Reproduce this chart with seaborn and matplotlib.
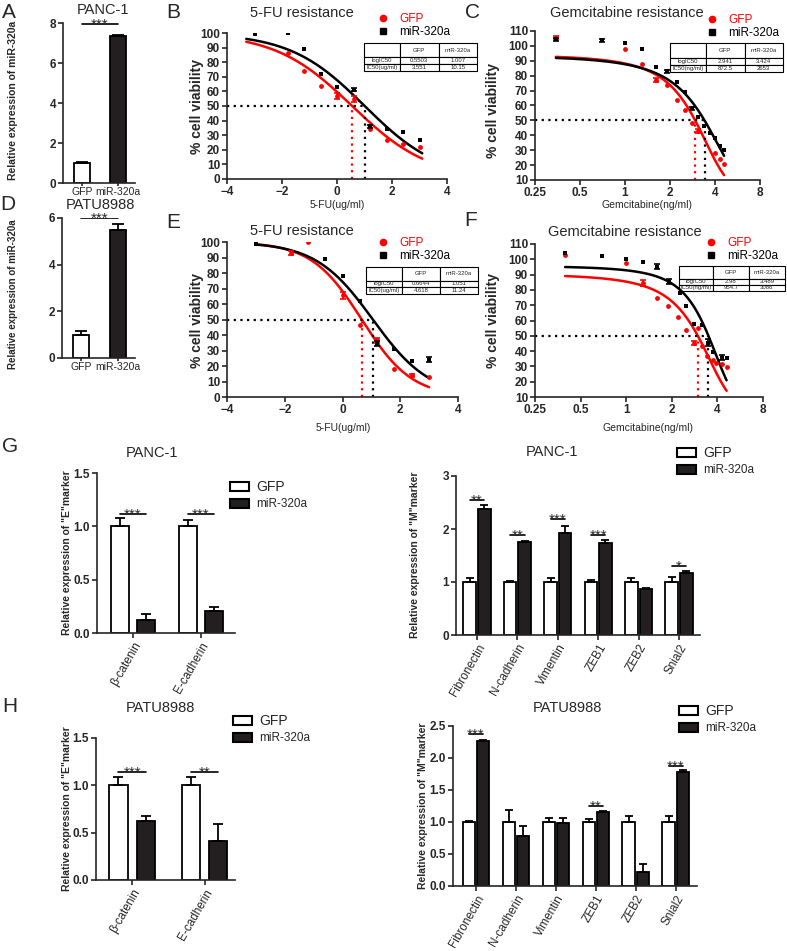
import numpy as np
import pandas as pd
import seaborn as sns
import matplotlib.pyplot as plt
from matplotlib.lines import Line2D
from matplotlib.patches import Patch
from matplotlib.ticker import NullLocator

#==========================================================================#
# data
#==========================================================================#

groups = ['GFP', 'miR-320a']

# A / D : miR-320a expression
a_mean = [1.0, 7.35]
a_err = [0.04, 0.06]
a_star_y = 7.97
d_mean = [1.0, 5.5]
d_err = [0.15, 0.25]
d_star_y = 6.0

# B : 5-FU, PANC-1   (x = log dose)
b_gfp_x = [-1.8, -1.2, -0.6, 0.0, 0.6, 1.2, 1.8, 2.4, 3.0]
b_gfp_y = [86, 74, 64, 57, 55, 34, 27, 24, 22]
b_gfp_e = [0, 0, 0, 2, 2, 0, 0, 0, 0]
b_mir_x = [-3.0, -1.8, -1.2, -0.6, 0.0, 0.6, 1.2, 1.8, 2.4, 3.0]
b_mir_y = [99, 100, 89, 72, 63, 61, 36, 34, 32, 27]
b_mir_e = [0, 0, 0, 0, 0, 1, 1, 0, 0, 0]
b_fits = [(100, 0.5503, 0.31), (100, 1.007, 0.32)]   # top, mid, slope
b_logic50 = [0.5503, 1.007]
b_table = [['logIC50', '0.5503', '1.007'], ['IC50(ug/ml)', '3.551', '10.15']]

# C : gemcitabine, PANC-1
c_gfp_x = [0.345, 1.0, 1.3, 1.6, 1.9, 2.22, 2.52, 2.8, 3.1, 4.0, 4.3, 4.6]
c_gfp_y = [105.5, 97.7, 88, 77, 74, 64, 57, 48, 43, 28, 24, 21]
c_gfp_e = [1, 0, 0, 1.5, 0, 0, 0, 0, 1.5, 0, 0, 0]
c_mir_x = [0.345, 0.7, 1.0, 1.3, 1.6, 1.9, 2.22, 2.52, 2.8, 3.1, 3.36, 3.7, 4.0, 4.3, 4.6]
c_mir_y = [104.6, 103.8, 102, 98, 86, 83, 76, 69, 58, 52, 46, 41.5, 38, 33, 30]
c_mir_e = [1, 1, 0, 0, 0, 1, 0, 0, 1, 0, 0, 0, 0, 0, 0]
c_fits = [(97, 3.0, 0.5), (98, 3.45, 0.38)]
c_logic50 = [2.941, 3.424]
c_table = [['logIC50', '2.941', '3.424'], ['IC50(ng/ml)', '872.5', '2653']]

# E : 5-FU, PATU8988
e_gfp_x = [-1.8, -1.2, 0.0, 0.6, 1.2, 1.8, 2.4, 3.0]
e_gfp_y = [93, 100, 65.5, 46.5, 36.5, 18, 14, 13]
e_gfp_e = [1.5, 0, 2, 0, 1.5, 0, 1, 0]
e_mir_x = [-3.0, -0.6, 0.0, 0.6, 1.2, 1.8, 2.4, 3.0]
e_mir_y = [99, 88.8, 78, 62, 34.5, 31, 23, 24]
e_mir_e = [0, 0, 0, 0, 1.5, 0, 0, 1.5]
e_fits = [(100, 0.6644, 0.5), (100, 1.051, 0.44)]
e_logic50 = [0.6644, 1.051]
e_table = [['logIC50', '0.6644', '1.051'], ['IC50(ug/ml)', '4.618', '11.24']]

# F : gemcitabine, PATU8988
f_gfp_x = [0.395, 1.0, 1.3, 1.59, 1.9, 2.2, 2.5, 2.8, 2.97, 3.15, 3.4, 3.75, 3.9, 4.3, 4.6]
f_gfp_y = [102.8, 97.8, 84.7, 75, 69.4, 62, 54.1, 45.4, 55.2, 43.2, 36.7, 34, 31.9, 31.4, 29.3]
f_gfp_e = [0, 0, 2, 0, 0, 0, 0, 1.5, 0, 0, 0, 0, 0, 0, 0]
f_mir_x = [0.395, 0.695, 1.0, 1.3, 1.6, 1.92, 2.27, 2.5, 2.8, 3.15, 3.46, 3.75, 4.3, 4.6]
f_mir_y = [103.9, 102.4, 100, 98, 95.2, 85.3, 78, 69.6, 57.6, 57, 45.6, 39.5, 35.8, 35.8]
f_mir_e = [0, 0, 0, 0, 1.5, 1.5, 0, 0, 0, 0, 2, 0, 1.5, 0]
f_fits = [(93, 3.1, 0.5), (97, 3.54, 0.53)]
f_logic50 = [2.98, 3.489]
f_table = [['logIC50', '2.98', '3.489'], ['IC50(ng/ml)', '954.7', '3086']]

# G / H : EMT markers
e_markers = ['β-catenin', 'E-cadherin']
m_markers = ['Fibronectin', 'N-cadherin', 'Vimentin', 'ZEB1', 'ZEB2', 'Snial2']

g_e_gfp = [1.0, 1.0]
g_e_gfp_err = [0.08, 0.06]
g_e_mir = [0.12, 0.21]
g_e_mir_err = [0.06, 0.03]
g_e_stars = ['***', '***']
g_e_star_y = [1.12, 1.12]

g_m_gfp = [1.0, 1.0, 1.0, 1.0, 1.0, 1.0]
g_m_gfp_err = [0.08, 0.02, 0.08, 0.04, 0.07, 0.10]
g_m_mir = [2.38, 1.76, 1.93, 1.73, 0.86, 1.17]
g_m_mir_err = [0.07, 0.02, 0.12, 0.07, 0.02, 0.03]
g_m_stars = ['**', '**', '***', '***', '', '*']
g_m_star_y = [2.55, 1.89, 2.19, 1.89, 0, 1.31]

h_e_gfp = [1.0, 1.0]
h_e_gfp_err = [0.09, 0.09]
h_e_mir = [0.62, 0.41]
h_e_mir_err = [0.06, 0.18]
h_e_stars = ['***', '**']
h_e_star_y = [1.14, 1.14]

h_m_gfp = [1.0, 1.0, 1.0, 1.0, 1.0, 1.0]
h_m_gfp_err = [0.01, 0.18, 0.07, 0.04, 0.10, 0.10]
h_m_mir = [2.27, 0.78, 0.99, 1.15, 0.22, 1.78]
h_m_mir_err = [0.01, 0.16, 0.08, 0.02, 0.12, 0.03]
h_m_stars = ['***', '', '', '**', '', '***']
h_m_star_y = [2.37, 0, 0, 1.25, 0, 1.87]

#==========================================================================#
# figure helpers
#==========================================================================#

sns.set_style('ticks')
plt.rcParams['font.family'] = ['Liberation Sans', 'DejaVu Sans']

DARK = '#231f20'
bar_colors = {'GFP': 'white', 'miR-320a': DARK}
W, H = 787, 951
fig = plt.figure(figsize=(W / 100, H / 100), dpi=100)


def add_ax(l, t, r, b):
    """axes from pixel box (left, top, right, bottom)"""
    return fig.add_axes([l / W, 1 - b / H, (r - l) / W, (b - t) / H])


def fpos(x, y):
    return x / W, 1 - y / H


def style(ax, ylabel, ylab_xy, yfont=7.5):
    sns.despine(ax=ax)
    for s in ['left', 'bottom']:
        ax.spines[s].set_linewidth(1.2)
    ax.tick_params(width=1.2, length=3.5, labelsize=8.5, pad=1.5)
    ax.set_xlabel('')
    ax.set_ylabel(ylabel, fontsize=yfont, fontweight='bold')
    ax.yaxis.set_label_coords(*fpos(*ylab_xy), transform=fig.transFigure)
    ax.yaxis.label.set_va('center')
    plt.setp(ax.get_yticklabels(), fontweight='bold')


def stars(ax, x0, x1, y, label):
    ax.plot([x0, x1], [y, y], color='black', lw=1.2)
    ax.annotate(label, ((x0 + x1) / 2, y), xytext=(0, -3.5), textcoords='offset points',
                ha='center', va='baseline', fontsize=11)


def sigmoid(x, top, mid, slope):
    return top / (1 + 10 ** ((x - mid) * slope))


def dose_panel(ax, gfp, mir, fits, logic50, table, xlim, ylim, logx, span, table_box, leg_xy,
               ylab_xy, xlabel, xlab_xy):
    if logx:
        ax.set_xscale('log', base=2)
    # fitted curves drawn over the same dose span for both groups
    grid = np.geomspace(*span, 200) if logx else np.linspace(*span, 200)
    for (x, y, e), (top, mid, slope), color, marker in zip([gfp, mir], fits, ['red', 'black'], ['o', 's']):
        sns.lineplot(x=grid, y=sigmoid(grid, top, mid, slope), color=color, lw=1.8, ax=ax)
        sns.scatterplot(x=x, y=y, color=color, marker=marker, s=12, linewidth=0, zorder=3, ax=ax)
        x, y, e = np.asarray(x), np.asarray(y), np.asarray(e, dtype=float)
        m = e > 0
        ax.errorbar(x[m], y[m], yerr=e[m], fmt='none', ecolor=color, elinewidth=1.2,
                    capsize=2, capthick=1.2, zorder=3)
    dot = (0, (1, 2))
    ax.plot([xlim[0], logic50[1]], [50, 50], color='black', ls=dot, lw=1.6)
    for ic, color in zip(logic50, ['red', 'black']):
        ax.plot([ic, ic], [ylim[0], 50], color=color, ls=dot, lw=1.6)
    ax.set_xlim(xlim)
    ax.set_ylim(ylim)
    ax.set_yticks(np.arange(ylim[0], ylim[1] + 1, 10))
    if logx:
        ax.set_xticks([0.25, 0.5, 1, 2, 4, 8])
        ax.set_xticklabels(['0.25', '0.5', '1', '2', '4', '8'])
        ax.xaxis.set_minor_locator(NullLocator())
    else:
        ax.set_xticks([-4, -2, 0, 2, 4])
    style(ax, '% cell viability', ylab_xy, yfont=10)
    plt.setp(ax.get_xticklabels(), fontweight='bold')
    ax.set_xlabel(xlabel, fontsize=7.5)
    ax.xaxis.set_label_coords(*fpos(*xlab_xy), transform=fig.transFigure)
    ax.xaxis.label.set_va('center')

    # IC50 table
    l, t, r, b = table_box
    (x0, y0), (x1, y1) = ax.transAxes.inverted().transform([(l, H - b), (r, H - t)])
    tab = ax.table(cellText=[['', 'GFP', 'miR-320a']] + table, cellLoc='center',
                   bbox=[x0, y0, x1 - x0, y1 - y0], colWidths=[0.32, 0.34, 0.34])
    tab.auto_set_font_size(False)
    tab.set_fontsize(4.3)
    for (row, col), cell in tab.get_celld().items():
        cell.set_linewidth(0.8)
        cell.set_height(2 if row == 0 else 1)   # header row is taller

    handles = [Line2D([], [], marker='o', color='red', ls='', ms=4.5),
               Line2D([], [], marker='s', color='black', ls='', ms=4.5)]
    ax.legend(handles, groups, loc='upper left', bbox_to_anchor=fpos(*leg_xy), bbox_transform=fig.transFigure,
              frameon=False, fontsize=8.5, handlelength=1.0, handletextpad=0.9, labelspacing=0.1,
              borderpad=0, borderaxespad=0, labelcolor=['red', 'black'])


def expr_panel(ax, mean, err, star_y, ylim, yticks):
    df = pd.DataFrame({'group': groups, 'value': mean})
    sns.barplot(data=df, x='group', y='value', hue='group', palette=bar_colors, edgecolor='black',
                linewidth=1.3, width=0.44, saturation=1, errorbar=None, legend=False, ax=ax)
    xs = [p.get_x() + p.get_width() / 2 for p in ax.patches]
    ax.errorbar(xs, mean, yerr=[[0, 0], err], fmt='none', ecolor='black', elinewidth=1.3,
                capsize=4, capthick=1.3)
    stars(ax, xs[0], xs[1], star_y, '***')
    ax.set_xlim(-0.53, 1.47)
    ax.set_ylim(ylim)
    ax.set_yticks(yticks)


def marker_panel(ax, markers, gfp, gfp_err, mir, mir_err, sig, sig_y, width, gap, xlim, ylim, yticks, cap):
    n = len(markers)
    df = pd.DataFrame({'marker': markers * 2,
                       'group': [groups[0]] * n + [groups[1]] * n,
                       'value': gfp + mir})
    sns.barplot(data=df, x='marker', y='value', hue='group', palette=bar_colors, edgecolor='black',
                linewidth=1.3, width=width, gap=gap, saturation=1, errorbar=None, legend=False, ax=ax)
    centers = []
    for cont, errs in zip(list(ax.containers)[:2], [gfp_err, mir_err]):
        xs = [p.get_x() + p.get_width() / 2 for p in cont]
        hs = [p.get_height() for p in cont]
        ax.errorbar(xs, hs, yerr=[np.zeros(n), errs], fmt='none', ecolor='black', elinewidth=1.3,
                    capsize=cap, capthick=1.3)
        centers.append(xs)
    for i, (lab, y) in enumerate(zip(sig, sig_y)):
        if lab:
            stars(ax, centers[0][i], centers[1][i], y, lab)
    ax.set_xlim(xlim)
    ax.set_ylim(ylim)
    ax.set_yticks(yticks)
    ax.set_xticks(range(n))
    ax.set_xticklabels(markers, rotation=60, ha='right', rotation_mode='anchor', fontsize=8.5)


def bar_legend(ax, xy):
    handles = [Patch(facecolor='white', edgecolor='black', lw=1.5),
               Patch(facecolor=DARK, edgecolor='black', lw=1.5)]
    leg = ax.legend(handles, groups, loc='upper left', bbox_to_anchor=fpos(*xy),
                    bbox_transform=fig.transFigure, frameon=False, fontsize=8.5,
                    handlelength=1.6, handleheight=0.8, handletextpad=0.6, labelspacing=0.35,
                    borderpad=0, borderaxespad=0)
    leg.get_texts()[0].set_fontsize(10)


#==========================================================================#
# build panels
#==========================================================================#

ax_a = add_ax(63, 23, 135, 183)
ax_d = add_ax(62, 218, 135, 358)
ax_b = add_ax(227, 33, 447, 179)
ax_c = add_ax(535, 31, 760, 180)
ax_e = add_ax(227, 242, 458, 397)
ax_f = add_ax(535, 244, 763, 397)
ax_ge = add_ax(97, 473, 235, 633)
ax_gm = add_ax(456, 476, 700, 635)
ax_he = add_ax(96, 738, 235, 880)
ax_hm = add_ax(453, 726, 697, 886)

expr_panel(ax_a, a_mean, a_err, a_star_y, (0, 8), [0, 2, 4, 6, 8])
style(ax_a, 'Relative expression of miR-320a', (13, 100))
expr_panel(ax_d, d_mean, d_err, d_star_y, (0, 6), [0, 2, 4, 6])
style(ax_d, 'Relative expression of miR-320a', (13, 294), yfont=7)
for ax in [ax_a, ax_d]:
    ax.tick_params(axis='x', labelsize=7.5, length=2.5, pad=0.5)

dose_panel(ax_b, (b_gfp_x, b_gfp_y, b_gfp_e), (b_mir_x, b_mir_y, b_mir_e), b_fits, b_logic50, b_table,
           (-4, 4), (0, 100), False, (-3.3, 3.1), (364, 43, 477, 71), (377, 13), (197, 106),
           '5-FU(ug/ml)', (337, 205))
dose_panel(ax_c, (c_gfp_x, c_gfp_y, c_gfp_e), (c_mir_x, c_mir_y, c_mir_e), c_fits, c_logic50, c_table,
           (0.25, 8), (10, 110), True, (0.345, 4.6), (670, 43, 783, 72), (706, 14), (493, 110),
           'Gemcitabine(ng/ml)', (647, 205))
dose_panel(ax_e, (e_gfp_x, e_gfp_y, e_gfp_e), (e_mir_x, e_mir_y, e_mir_e), e_fits, e_logic50, e_table,
           (-4, 4), (0, 100), False, (-3.0, 3.0), (366, 267, 478, 294), (377, 237), (197, 320),
           '5-FU(ug/ml)', (343, 428))
dose_panel(ax_f, (f_gfp_x, f_gfp_y, f_gfp_e), (f_mir_x, f_mir_y, f_mir_e), f_fits, f_logic50, f_table,
           (0.25, 8), (10, 110), True, (0.395, 4.6), (679, 266, 785, 291), (705, 237), (493, 320),
           'Gemcitabine(ng/ml)', (648, 428))

marker_panel(ax_ge, e_markers, g_e_gfp, g_e_gfp_err, g_e_mir, g_e_mir_err, g_e_stars, g_e_star_y,
             0.76, 0.32, (-0.53, 1.5), (0, 1.5), [0, 0.5, 1.0, 1.5], 3.6)
style(ax_ge, 'Relative expression of "E"marker', (67, 553))
ax_ge.yaxis.set_major_formatter('{x:.1f}')
marker_panel(ax_gm, m_markers, g_m_gfp, g_m_gfp_err, g_m_mir, g_m_mir_err, g_m_stars, g_m_star_y,
             0.72, 0.14, (-0.52, 5.52), (0, 3), [0, 1, 2, 3], 2.8)
style(ax_gm, 'Relative expression of "M"marker', (415, 555))
marker_panel(ax_he, e_markers, h_e_gfp, h_e_gfp_err, h_e_mir, h_e_mir_err, h_e_stars, h_e_star_y,
             0.76, 0.34, (-0.5, 1.42), (0, 1.5), [0, 0.5, 1.0, 1.5], 3.6)
style(ax_he, 'Relative expression of "E"marker', (67, 809))
ax_he.yaxis.set_major_formatter('{x:.1f}')
marker_panel(ax_hm, m_markers, h_m_gfp, h_m_gfp_err, h_m_mir, h_m_mir_err, h_m_stars, h_m_star_y,
             0.72, 0.14, (-0.575, 5.53), (0, 2.5), [0, 0.5, 1.0, 1.5, 2.0, 2.5], 2.8)
style(ax_hm, 'Relative expression of "M"marker', (423, 806))
ax_hm.yaxis.set_major_formatter('{x:.1f}')
for ax in [ax_ge, ax_he, ax_hm]:
    plt.setp(ax.get_yticklabels(), fontweight='bold')

bar_legend(ax_ge, (230, 480))
bar_legend(ax_gm, (677, 446))
bar_legend(ax_he, (233, 714))
bar_legend(ax_hm, (679, 704))

# titles and panel letters
titles = [('PANC-1', 103, 10), ('PATU8988', 100, 205), ('5-FU resistance', 302, 13),
          ('Gemcitabine resistance', 627, 13), ('5-FU resistance', 302, 231),
          ('Gemcitabine resistance', 625, 232), ('PANC-1', 152, 453), ('PANC-1', 552, 452),
          ('PATU8988', 160, 708), ('PATU8988', 567, 708)]
for txt, x, y in titles:
    fig.text(*fpos(x, y), txt, ha='center', va='center', fontsize=10.5)

letters = [('A', 9, 13), ('B', 173, 13), ('C', 472, 13), ('D', 8, 205), ('E', 173, 223),
           ('F', 471, 220), ('G', 10, 447), ('H', 10, 707)]
for txt, x, y in letters:
    fig.text(*fpos(x, y), txt, ha='center', va='center', fontsize=15)

plt.savefig('out.png', dpi=100)
